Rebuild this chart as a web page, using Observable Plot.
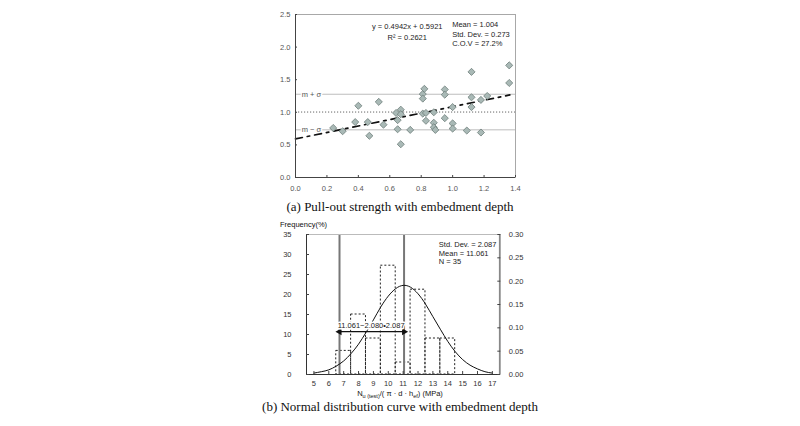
<!DOCTYPE html>
<html><head><meta charset="utf-8">
<script src="https://cdn.jsdelivr.net/npm/d3@7"></script>
<script src="https://cdn.jsdelivr.net/npm/@observablehq/plot@0.6"></script>
<style>
body{margin:0;background:#fff;}
#wrap{position:relative;width:800px;height:426px;overflow:hidden;background:#fff;}
.abs{position:absolute;}
.cap{font-family:"Liberation Serif","Times New Roman",serif;font-size:13px;line-height:15px;color:#111;width:800px;text-align:center;left:0;}
.small{font-family:"Liberation Sans",Arial,sans-serif;font-size:7.5px;line-height:9px;color:#111;white-space:nowrap;}
.small sub{font-size:5.5px;vertical-align:-1.5px;}
</style></head><body>
<div id="wrap">
  <div id="top" class="abs" style="left:0;top:0;"></div>
  <div class="abs cap" style="top:198.5px;">(a) Pull-out strength with embedment depth</div>
  <div class="abs small" style="left:280px;top:220px;">Frequency(%)</div>
  <div id="bot" class="abs" style="left:0;top:220px;"></div>
  <div class="abs small" style="left:0;width:800px;text-align:center;top:388.5px;">N<sub>u (test)</sub>/( π · d · h<sub>ef</sub>) (MPa)</div>
  <div class="abs cap" style="top:399px;">(b) Normal distribution curve with embedment depth</div>
</div>
<script>
// ---------- (a) scatter data ----------
const depthX = [0.24,0.30,0.38,0.40,0.46,0.47,0.53,0.56,0.64,0.65,0.65,0.67,0.67,0.67,0.73,0.81,0.81,0.82,0.81,0.83,0.83,0.88,0.88,0.88,0.89,0.95,0.95,0.95,1.00,1.00,1.00,1.09,1.12,1.12,1.12,1.18,1.18,1.22,1.36,1.36];
const ratioY = [0.76,0.71,0.85,1.10,0.85,0.64,1.16,0.81,0.99,0.88,0.74,1.04,0.97,0.51,0.73,1.28,1.21,1.36,0.98,0.99,0.87,1.00,0.84,0.77,0.73,1.35,1.27,0.91,1.08,0.83,0.75,0.72,1.62,1.23,1.08,1.19,0.69,1.25,1.72,1.45];
const trendX = [0.0, 1.364];
const trendY = [0.592, 1.266];
const meanA = 1.004;
const mPlusSigma = 1.277;
const mMinusSigma = 0.731;
const sigmaLabels = ["m + σ", "m − σ"];
const xTicksA = [0,0.2,0.4,0.6,0.8,1.0,1.2,1.4];
const yTicksA = [0,0.5,1.0,1.5,2.0,2.5];
const eqLines = ["y = 0.4942x + 0.5921", "R² = 0.2621"];
const statLinesA = ["Mean = 1.004", "Std. Dev. = 0.273", "C.O.V = 27.2%"];

// ---------- (b) histogram / normal curve data ----------
const binStart = [6.5,7.5,8.5,9.5,10.5,11.5,12.5,13.5];
const binEnd   = [7.5,8.5,9.5,10.5,11.5,12.5,13.5,14.5];
const freqPct  = [5.9,15.0,9.0,27.2,3.0,21.2,9.0,9.0];
const curveX = [5,5.5,6,6.5,7,7.5,8,8.5,9,9.5,10,10.5,11,11.5,12,12.5,13,13.5,14,14.5,15,15.5,16,16.5,17];
const curveP = [0.003,0.006,0.010,0.018,0.029,0.045,0.065,0.090,0.117,0.145,0.168,0.184,0.191,0.187,0.173,0.151,0.124,0.097,0.071,0.049,0.032,0.020,0.012,0.006,0.003];
const meanB = 11.061;
const lowerB = 6.72;
const arrowLevel = 10.7;
const arrowLabel = "11.061−2.080•2.087";
const statLinesB = ["Std. Dev. = 2.087", "Mean = 11.061", "N = 35"];
const xTicksB = [5,6,7,8,9,10,11,12,13,14,15,16,17];
const yTicksB = [0,5,10,15,20,25,30,35];
const yTicksRight = [0.00,0.05,0.10,0.15,0.20,0.25,0.30];
const leftMax = 35, rightMax = 0.30;

const baseStyle = {fontFamily:"'Liberation Sans', Arial, sans-serif", fontSize:"7.5px", color:"#444", background:"transparent", overflow:"visible"};

// ---------- plot (a) ----------
const pts = depthX.map((x,i)=>({x, y: ratioY[i]}));
const trend = trendX.map((x,i)=>({x, y: trendY[i]}));
const sig = sigmaLabels.map((t,i)=>({t, y: i===0 ? mPlusSigma : mMinusSigma}));
const eq = eqLines.map((t,i)=>({t, y: [2.31,2.14][i]}));
const stA = statLinesA.map((t,i)=>({t, y: [2.34,2.19,2.05][i]}));

const plotA = Plot.plot({
  width: 800, height: 200,
  marginLeft: 295, marginRight: 285, marginTop: 14, marginBottom: 23,
  x: {domain: [0,1.4]}, y: {domain: [0,2.5]},
  style: baseStyle,
  marks: [
    Plot.ruleY([mPlusSigma, mMinusSigma], {stroke:"#bdbdbd", strokeWidth:1}),
    Plot.ruleY([meanA], {stroke:"#666", strokeDasharray:"1.2,1.8"}),
    Plot.text(sig, {x: 0.04, y: "y", text: "t", textAnchor:"start", fill:"#555", stroke:"white", strokeWidth:3, fontSize:7.5}),
    Plot.line(trend, {x:"x", y:"y", stroke:"#111", strokeWidth:1.7, strokeDasharray:"7,5,2.5,5"}),
    Plot.dot(pts, {x:"x", y:"y", symbol:"diamond2", r:3.2, fill:"#a9b9b6", stroke:"#6d7d7a", strokeWidth:0.8}),
    Plot.text(eq, {x: 0.711, y:"y", text:"t", textAnchor:"middle", fill:"#222", fontSize:7.5}),
    Plot.text(stA, {x: 0.997, y:"y", text:"t", textAnchor:"start", fill:"#222", fontSize:7.5}),
    Plot.frame({stroke:"#a8a8a8"}),
    Plot.ruleX([0], {stroke:"#444"}),
    Plot.ruleY([0], {stroke:"#444"}),
    Plot.axisX(xTicksA, {tickSize:-2, tickPadding:10, tickFormat: d=>d.toFixed(1), label:null, fill:"#555"}),
    Plot.axisY(yTicksA, {tickSize:-2, tickPadding:7, tickFormat: d=>d.toFixed(1), label:null, fill:"#555"})
  ]
});
document.getElementById("top").appendChild(plotA);

// ---------- plot (b) ----------
const hist = binStart.map((s,i)=>({x1:s, x2:binEnd[i], f:freqPct[i]}));
const curve = curveX.map((x,i)=>({x, p: curveP[i]}));
const toLeft = p => p * leftMax / rightMax;
const stB = statLinesB.map((t,i)=>({t, y:[32.5,30.3,28.2][i]}));

const plotB = Plot.plot({
  width: 800, height: 175,
  marginLeft: 306, marginRight: 300.7, marginTop: 14, marginBottom: 21,
  x: {domain: [4.5,17.5]}, y: {domain: [0,35]},
  style: baseStyle,
  marks: [
    Plot.rect(hist, {x1:"x1", x2:"x2", y1:0, y2:"f", fill:"none", stroke:"#222", strokeWidth:1, strokeDasharray:"2,2"}),
    Plot.ruleX([lowerB, meanB], {stroke:"#777", strokeWidth:2}),
    Plot.line(curve, {x:"x", y: d => toLeft(d.p), curve:"natural", stroke:"#111", strokeWidth:1}),
    Plot.link([{a:lowerB, b:meanB}], {x1:"a", x2:"b", y1: arrowLevel, y2: arrowLevel, stroke:"#111", strokeWidth:1.3}),
    Plot.dot([{x:lowerB, r:-90},{x:meanB, r:90}], {x:"x", y: arrowLevel, rotate:"r", symbol:"triangle", r:2.6, fill:"#111"}),
    Plot.text([arrowLabel], {x: 8.85, y: 12.3, text: d=>d, fill:"#222", stroke:"white", strokeWidth:3, fontSize:7.5}),
    Plot.text(stB, {x: 13.4, y:"y", text:"t", textAnchor:"start", fill:"#222", fontSize:7.5}),
    Plot.ruleY([35], {stroke:"#bbb"}),
    Plot.ruleX([17.5], {stroke:"#888", strokeWidth:1.8}),
    Plot.ruleX([4.5], {stroke:"#333"}),
    Plot.ruleY([0], {stroke:"#333"}),
    Plot.axisX(xTicksB, {tickSize:-3, tickPadding:9, label:null, fill:"#333"}),
    Plot.axisY(yTicksB, {anchor:"left", tickSize:-3, tickPadding:18, label:null, fill:"#333"}),
    Plot.axisY(yTicksRight.map(toLeft), {anchor:"right", tickSize:-3, tickPadding:12, label:null, fill:"#333", tickFormat: d => (d*rightMax/leftMax).toFixed(2)})
  ]
});
document.getElementById("bot").appendChild(plotB);
</script>
</body></html>
